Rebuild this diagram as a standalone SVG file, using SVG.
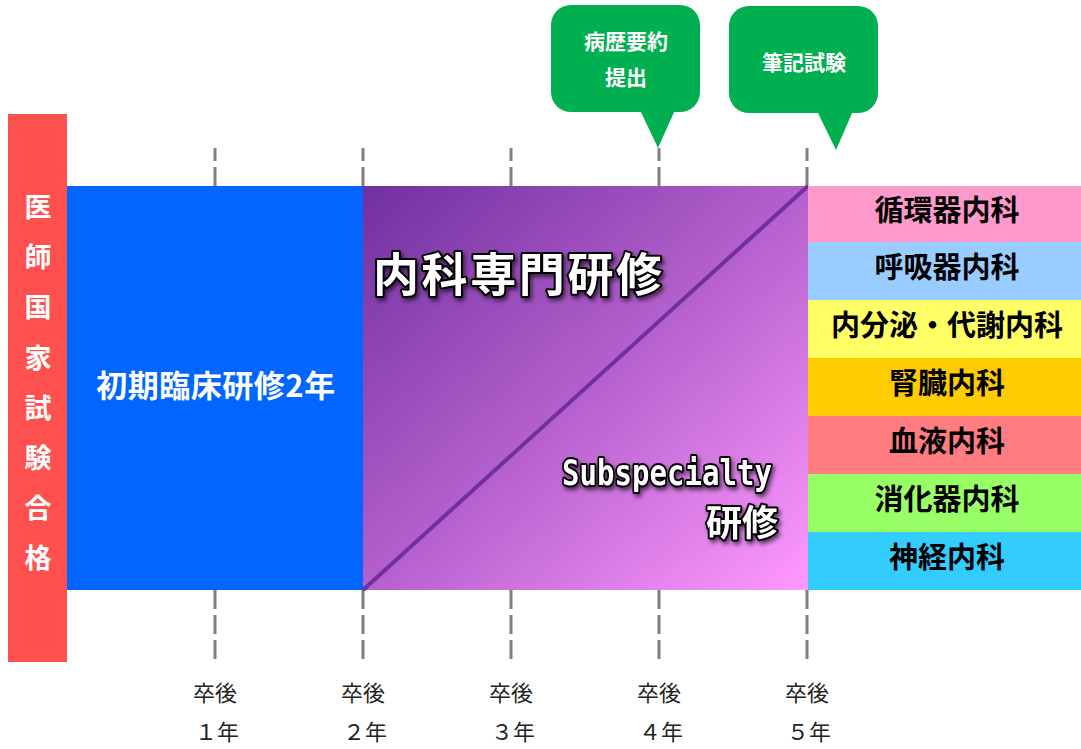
<svg xmlns="http://www.w3.org/2000/svg" width="1081" height="749" viewBox="0 0 1081 749">
<style>
.jp{font-family:"Noto Sans CJK JP","Noto Sans",sans-serif;}
.wb{fill:#fff;font-weight:bold;}
.spec{fill:#000;font-weight:bold;font-size:29px;text-anchor:middle;}
.yr{fill:#222;font-size:22px;text-anchor:middle;}
.tick{stroke:#808080;stroke-width:3;stroke-dasharray:19 6;fill:none;}
.outl{fill:#fff;stroke:#000;stroke-width:4;stroke-linejoin:round;paint-order:stroke;font-weight:bold;filter:url(#sh);}
.bubble{fill:#00B050;}
</style>
<defs>
<linearGradient id="pg" x1="0" y1="0" x2="1" y2="1">
<stop offset="0" stop-color="#7030A0"/>
<stop offset="0.5" stop-color="#B460CC"/>
<stop offset="1" stop-color="#FF99FF"/>
</linearGradient>
<filter id="sh" x="-10%" y="-20%" width="130%" height="160%">
<feDropShadow dx="2" dy="3" stdDeviation="2" flood-color="#000" flood-opacity="0.6"/>
</filter>
</defs>
<g id="connectors">
<line class="tick" x1="215" y1="186" x2="215" y2="148"/>
<line class="tick" x1="363" y1="186" x2="363" y2="148"/>
<line class="tick" x1="511" y1="186" x2="511" y2="148"/>
<line class="tick" x1="659" y1="186" x2="659" y2="148"/>
<line class="tick" x1="807" y1="186" x2="807" y2="148"/>
<line class="tick" x1="215" y1="590" x2="215" y2="660"/>
<line class="tick" x1="363" y1="590" x2="363" y2="660"/>
<line class="tick" x1="511" y1="590" x2="511" y2="660"/>
<line class="tick" x1="659" y1="590" x2="659" y2="660"/>
<line class="tick" x1="807" y1="590" x2="807" y2="660"/>
</g>
<g id="license">
<rect x="8" y="114" width="59" height="548" fill="#FF5050"/>
<g class="jp wb" font-size="27" text-anchor="middle">
<text x="38" y="217">医</text>
<text x="38" y="267">師</text>
<text x="38" y="317">国</text>
<text x="38" y="368">家</text>
<text x="38" y="418">試</text>
<text x="38" y="468">験</text>
<text x="38" y="518">合</text>
<text x="38" y="568">格</text>
</g>
</g>
<g id="initial">
<rect x="67" y="186" width="296" height="404" fill="#0066FF"/>
<text class="jp wb" x="216" y="397" font-size="31" text-anchor="middle" letter-spacing="0.5">初期臨床研修2年</text>
</g>
<g id="specialty">
<rect x="363" y="186" width="445" height="404" fill="url(#pg)"/>
<line x1="363" y1="590" x2="808" y2="186" stroke="#7030A0" stroke-width="4"/>
<text class="jp outl" x="373" y="291" font-size="46" textLength="289" lengthAdjust="spacing">内科専門研修</text>
<text class="outl" x="562" y="485" font-size="35" font-family="'DejaVu Sans Mono','Liberation Mono',monospace" font-weight="normal" textLength="210" lengthAdjust="spacingAndGlyphs">Subspecialty</text>
<text class="jp outl" x="778" y="536" font-size="36" text-anchor="end">研修</text>
</g>
<g id="subspecialties" class="jp">
<rect x="808" y="186" width="273" height="56" fill="#FF99CC"/>
<text class="spec" x="947" y="221">循環器内科</text>
<rect x="808" y="242" width="273" height="58" fill="#99CCFF"/>
<text class="spec" x="947" y="278">呼吸器内科</text>
<rect x="808" y="300" width="273" height="58" fill="#FFFF66"/>
<text class="spec" x="947" y="336">内分泌・代謝内科</text>
<rect x="808" y="358" width="273" height="58" fill="#FFCC00"/>
<text class="spec" x="947" y="394">腎臓内科</text>
<rect x="808" y="416" width="273" height="58" fill="#FF7C80"/>
<text class="spec" x="947" y="452">血液内科</text>
<rect x="808" y="474" width="273" height="58" fill="#99FF66"/>
<text class="spec" x="947" y="510">消化器内科</text>
<rect x="808" y="532" width="273" height="58" fill="#33CCFF"/>
<text class="spec" x="947" y="568">神経内科</text>
</g>
<g id="bubble-summary">
<rect class="bubble" x="551" y="5" width="149" height="107" rx="20"/>
<polygon class="bubble" points="640,110 675,110 658,148"/>
<text class="jp wb" x="626" y="49" font-size="21" text-anchor="middle">病歴要約</text>
<text class="jp wb" x="626" y="85" font-size="21" text-anchor="middle">提出</text>
</g>
<g id="bubble-exam">
<rect class="bubble" x="729" y="6" width="149" height="107" rx="20"/>
<polygon class="bubble" points="817,111 853,111 836,150"/>
<text class="jp wb" x="804" y="70" font-size="21" text-anchor="middle">筆記試験</text>
</g>
<g id="years" class="jp">
<text class="yr" x="215" y="701">卒後</text>
<text class="yr" x="217" y="740">１年</text>
<text class="yr" x="363" y="701">卒後</text>
<text class="yr" x="365" y="740">２年</text>
<text class="yr" x="511" y="701">卒後</text>
<text class="yr" x="513" y="740">３年</text>
<text class="yr" x="659" y="701">卒後</text>
<text class="yr" x="661" y="740">４年</text>
<text class="yr" x="807" y="701">卒後</text>
<text class="yr" x="809" y="740">５年</text>
</g>
</svg>
